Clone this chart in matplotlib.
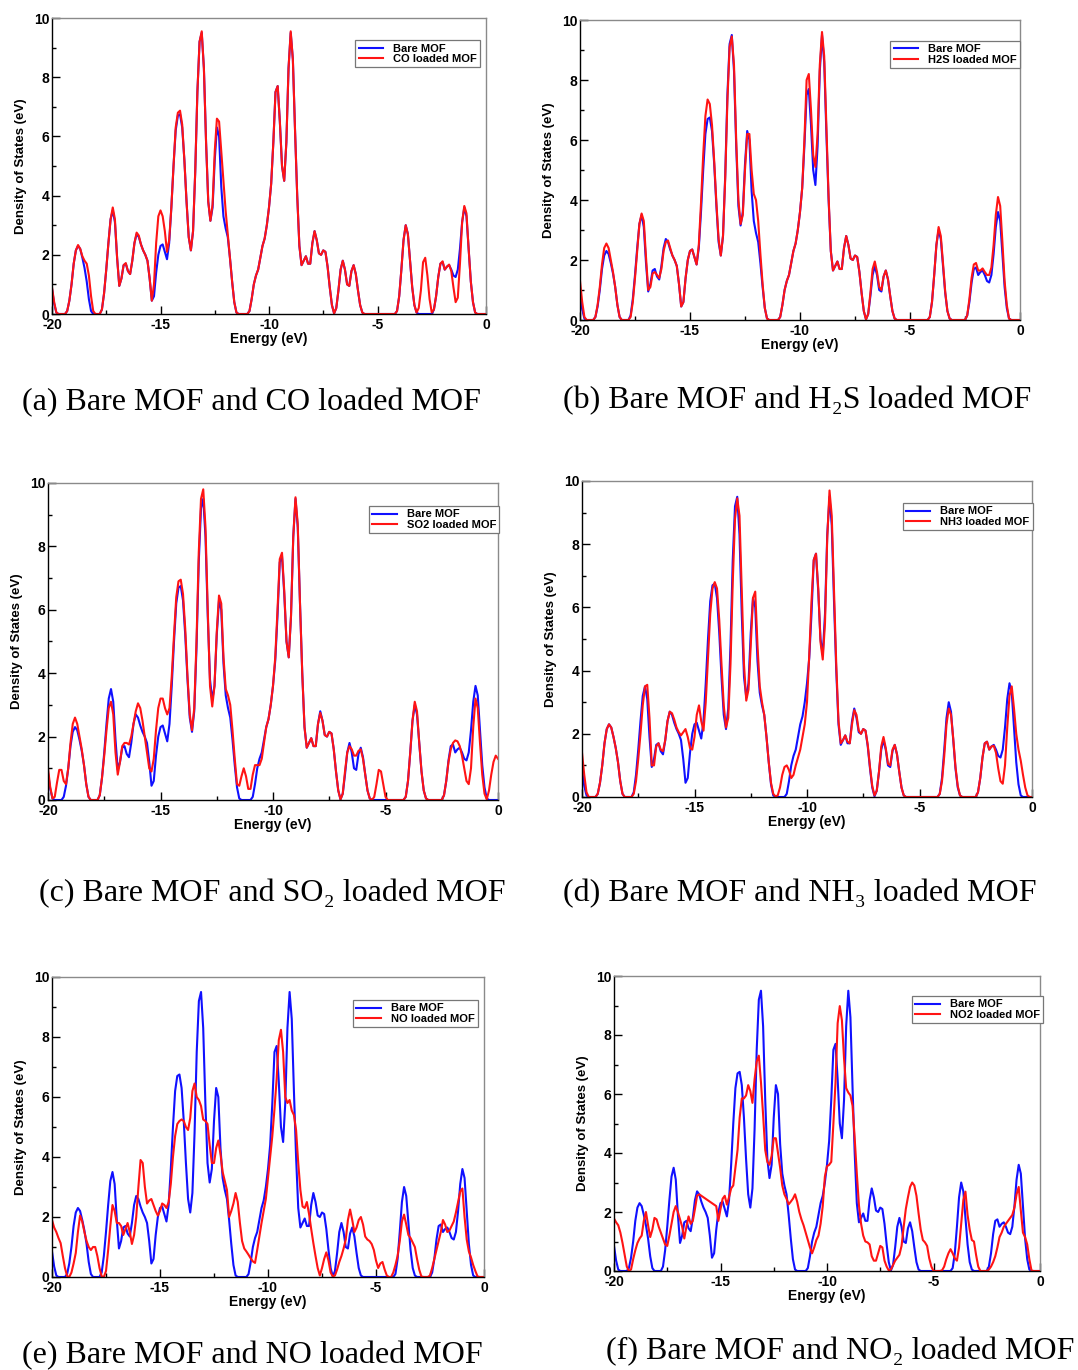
import numpy as np
import matplotlib
matplotlib.use('Agg')
import matplotlib.pyplot as plt
from matplotlib.ticker import MultipleLocator

plt.rcParams['axes.unicode_minus'] = False
plt.rcParams['font.family'] = ['Liberation Sans', 'DejaVu Sans']
plt.rcParams['font.weight'] = 'bold'

# Energy grid (eV), 0.1 eV sampling from -20 to 0
energy = np.round(np.linspace(-20, 0, 201), 1)

# ---- Density of states (one row = 1 eV, 10 samples) ----
bare_mof = [
    0.85, 0.35, 0.05, 0, 0, 0, 0, 0.1, 0.45, 1.0,          # -20
    1.7, 2.15, 2.3, 2.2, 1.9, 1.55, 1.1, 0.5, 0.1, 0,      # -19
    0, 0, 0, 0.15, 0.7, 1.5, 2.4, 3.2, 3.5, 3.1,           # -18
    1.9, 0.95, 1.2, 1.65, 1.7, 1.45, 1.35, 1.8, 2.4, 2.7,  # -17
    2.6, 2.35, 2.15, 2.0, 1.8, 1.2, 0.45, 0.6, 1.4, 2.0,   # -16
    2.3, 2.35, 2.1, 1.85, 2.4, 3.6, 5.0, 6.2, 6.7, 6.75,   # -15
    6.3, 5.2, 3.8, 2.6, 2.15, 2.8, 4.8, 7.5, 9.2, 9.5,     # -14
    8.3, 5.8, 3.8, 3.15, 3.6, 5.2, 6.3, 6.0, 4.3, 3.3,     # -13
    2.9, 2.6, 1.9, 1.1, 0.4, 0.05, 0, 0, 0, 0,             # -12
    0, 0.1, 0.5, 1.0, 1.3, 1.5, 1.9, 2.3, 2.55, 3.0,       # -11
    3.6, 4.4, 5.8, 7.5, 7.7, 6.5, 5.0, 4.5, 5.8, 8.3,      # -10
    9.5, 8.6, 6.2, 4.0, 2.3, 1.65, 1.8, 1.95, 1.7, 1.7,    # -9
    2.4, 2.8, 2.5, 2.05, 2.0, 2.15, 2.1, 1.6, 0.9, 0.3,    # -8
    0.02, 0.2, 0.8, 1.5, 1.8, 1.5, 1.0, 0.95, 1.45, 1.65,  # -7
    1.35, 0.8, 0.3, 0.05, 0, 0, 0, 0, 0, 0,                # -6
    0, 0, 0, 0, 0, 0, 0, 0, 0, 0.1,                        # -5
    0.6, 1.5, 2.5, 3.0, 2.7, 1.8, 0.9, 0.3, 0.05, 0,       # -4
    0, 0, 0, 0, 0, 0, 0.15, 0.6, 1.25, 1.7,                # -3
    1.75, 1.5, 1.6, 1.65, 1.5, 1.3, 1.25, 1.5, 2.2, 3.1,   # -2
    3.6, 3.3, 2.2, 1.1, 0.4, 0.05, 0, 0, 0, 0,             # -1
    0]

co_loaded = [
    0.9, 0.4, 0.05, 0, 0, 0, 0, 0.1, 0.45, 1.0,
    1.7, 2.15, 2.33, 2.2, 1.95, 1.8, 1.7, 1.3, 0.6, 0.1,
    0, 0, 0, 0.15, 0.7, 1.5, 2.4, 3.2, 3.6, 3.2,
    1.9, 0.95, 1.2, 1.65, 1.72, 1.45, 1.35, 1.8, 2.4, 2.75,
    2.65, 2.35, 2.15, 2.0, 1.8, 1.2, 0.45, 1.0, 2.4, 3.3,
    3.5, 3.3, 2.8, 2.1, 2.5, 3.6, 5.0, 6.3, 6.8, 6.87,
    6.4, 5.2, 3.8, 2.6, 2.15, 2.8, 4.8, 7.5, 9.2, 9.55,
    8.3, 5.8, 3.8, 3.15, 3.7, 5.5, 6.6, 6.5, 5.5, 4.5,
    3.5, 2.7, 1.9, 1.1, 0.4, 0.05, 0, 0, 0, 0,
    0, 0.1, 0.5, 1.0, 1.3, 1.5, 1.9, 2.3, 2.55, 3.0,
    3.6, 4.4, 5.8, 7.5, 7.7, 6.5, 5.0, 4.5, 5.8, 8.3,
    9.55, 8.6, 6.2, 4.0, 2.3, 1.65, 1.8, 1.95, 1.7, 1.7,
    2.4, 2.8, 2.5, 2.05, 2.0, 2.15, 2.1, 1.6, 0.9, 0.3,
    0.02, 0.2, 0.8, 1.5, 1.8, 1.5, 1.0, 0.95, 1.45, 1.65,
    1.35, 0.8, 0.3, 0.05, 0, 0, 0, 0, 0, 0,
    0, 0, 0, 0, 0, 0, 0, 0, 0, 0.1,
    0.6, 1.5, 2.5, 3.0, 2.7, 1.8, 0.9, 0.3, 0.05, 0.2,
    0.8, 1.75, 1.9, 1.3, 0.5, 0.05, 0.15, 0.6, 1.25, 1.7,
    1.78, 1.5, 1.6, 1.67, 1.45, 0.9, 0.4, 0.55, 1.7, 3.1,
    3.65, 3.4, 2.2, 1.1, 0.4, 0.05, 0, 0, 0, 0,
    0]

h2s_loaded = [
    1.3, 0.6, 0.1, 0, 0, 0, 0, 0.1, 0.5, 1.1,
    1.85, 2.4, 2.55, 2.4, 2.0, 1.6, 1.1, 0.5, 0.1, 0,
    0, 0, 0, 0.1, 0.6, 1.4, 2.3, 3.2, 3.55, 3.3,
    2.1, 1.0, 1.1, 1.55, 1.6, 1.5, 1.4, 1.7, 2.3, 2.6,
    2.65, 2.4, 2.15, 2.0, 1.8, 1.2, 0.45, 0.6, 1.4, 2.0,
    2.3, 2.35, 2.1, 1.85, 2.5, 3.9, 5.5, 6.8, 7.35, 7.2,
    6.5, 5.3, 3.9, 2.7, 2.15, 2.8, 4.7, 7.3, 9.1, 9.45,
    8.5, 6.0, 4.0, 3.2, 3.5, 5.0, 6.2, 6.2, 5.0, 4.2,
    4.0, 3.3, 2.2, 1.2, 0.4, 0.05, 0, 0, 0, 0,
    0, 0.1, 0.5, 1.0, 1.3, 1.5, 1.9, 2.3, 2.55, 3.0,
    3.6, 4.4, 6.0, 8.0, 8.2, 7.0, 5.5, 5.1, 6.2, 8.5,
    9.6, 8.8, 6.4, 4.1, 2.3, 1.65, 1.8, 1.95, 1.7, 1.7,
    2.4, 2.8, 2.5, 2.05, 2.0, 2.15, 2.1, 1.6, 0.9, 0.3,
    0.02, 0.2, 0.9, 1.7, 1.95, 1.6, 1.1, 1.0, 1.45, 1.65,
    1.35, 0.8, 0.3, 0.05, 0, 0, 0, 0, 0, 0,
    0, 0, 0, 0, 0, 0, 0, 0, 0, 0.1,
    0.6, 1.5, 2.5, 3.1, 2.8, 1.9, 0.95, 0.3, 0.05, 0,
    0, 0, 0, 0, 0, 0, 0.15, 0.7, 1.4, 1.85,
    1.9, 1.65, 1.65, 1.72, 1.6, 1.5, 1.5, 1.75, 2.5, 3.5,
    4.1, 3.8, 2.6, 1.3, 0.5, 0.05, 0, 0, 0, 0,
    0]

so2_loaded = [
    1.0, 0.4, 0.05, 0.1, 0.55, 0.95, 0.95, 0.6, 0.5, 1.0,
    1.8, 2.4, 2.6, 2.4, 2.0, 1.6, 1.1, 0.5, 0.1, 0,
    0, 0, 0, 0.15, 0.7, 1.4, 2.2, 2.9, 3.1, 2.7,
    1.5, 0.8, 1.2, 1.7, 1.8, 1.8, 1.75, 2.0, 2.4, 2.8,
    3.05, 2.9, 2.5, 2.0, 1.5, 1.0, 0.9, 1.3, 2.2, 2.9,
    3.2, 3.2, 2.9, 2.7, 2.9, 3.9, 5.2, 6.4, 6.9, 6.95,
    6.5, 5.4, 3.9, 2.7, 2.2, 2.9, 5.0, 7.8, 9.5, 9.8,
    8.6, 6.0, 3.6, 2.95, 3.6, 5.3, 6.45, 6.2, 4.5, 3.5,
    3.3, 3.0, 2.2, 1.3, 0.5, 0.45, 0.75, 1.0, 0.75, 0.35,
    0.35, 0.8, 1.1, 1.1, 1.1, 1.3, 1.8, 2.3, 2.55, 3.0,
    3.6, 4.5, 6.0, 7.6, 7.8, 6.6, 5.0, 4.5, 5.8, 8.3,
    9.55, 8.7, 6.2, 4.0, 2.3, 1.65, 1.8, 1.95, 1.7, 1.7,
    2.4, 2.75, 2.5, 2.05, 2.0, 2.15, 2.1, 1.6, 0.9, 0.3,
    0.02, 0.2, 0.9, 1.5, 1.7, 1.6, 1.4, 1.4, 1.55, 1.6,
    1.3, 0.8, 0.3, 0.05, 0, 0.1, 0.5, 0.95, 0.9, 0.5,
    0.1, 0, 0, 0, 0, 0, 0, 0, 0, 0.1,
    0.6, 1.5, 2.5, 3.1, 2.8, 1.8, 0.9, 0.3, 0.05, 0,
    0, 0, 0, 0, 0, 0, 0.15, 0.6, 1.2, 1.6,
    1.8, 1.88, 1.85, 1.7, 1.4, 1.0, 0.6, 0.5, 1.0, 2.3,
    3.2, 2.9, 1.8, 0.8, 0.2, 0.02, 0.3, 0.8, 1.2, 1.4,
    1.3]

nh3_loaded = [
    1.4, 0.7, 0.15, 0, 0, 0, 0, 0.1, 0.45, 1.0,
    1.7, 2.15, 2.3, 2.2, 1.9, 1.55, 1.1, 0.5, 0.1, 0,
    0, 0, 0, 0.1, 0.5, 1.2, 2.0, 2.9, 3.5, 3.55,
    2.5, 1.0, 1.0, 1.6, 1.7, 1.5, 1.45, 1.8, 2.4, 2.7,
    2.65, 2.45, 2.2, 2.05, 1.95, 2.05, 2.15, 1.9, 1.55, 1.5,
    1.9, 2.6, 2.9, 2.4, 2.1, 3.0, 4.4, 5.8, 6.6, 6.8,
    6.6, 5.6, 4.2, 2.9, 2.2, 2.5, 4.2, 6.8, 8.8, 9.45,
    8.9, 6.5, 4.2, 3.05, 3.4, 4.8, 6.3, 6.5, 4.8, 3.5,
    3.0, 2.6, 1.9, 1.1, 0.45, 0.1, 0.02, 0.05, 0.3, 0.7,
    0.95, 1.0, 0.85, 0.6, 0.7, 1.0, 1.25, 1.5, 1.9, 2.3,
    3.0, 4.5, 6.2, 7.5, 7.7, 6.6, 4.9, 4.35, 5.5, 8.2,
    9.7, 8.9, 6.5, 4.2, 2.4, 1.7, 1.8, 1.95, 1.75, 1.7,
    2.3, 2.75, 2.6, 2.1, 2.0, 2.15, 2.1, 1.65, 0.95, 0.35,
    0.05, 0.2, 0.8, 1.6, 1.9, 1.55, 1.05, 1.0, 1.5, 1.65,
    1.35, 0.8, 0.3, 0.05, 0, 0, 0, 0, 0, 0,
    0, 0, 0, 0, 0, 0, 0, 0, 0, 0.1,
    0.5, 1.3, 2.3, 2.8, 2.6, 1.85, 0.95, 0.35, 0.05, 0,
    0, 0, 0, 0, 0, 0, 0.15, 0.6, 1.25, 1.7,
    1.75, 1.5, 1.6, 1.62, 1.4, 0.9, 0.5, 0.42, 1.0, 2.2,
    3.2, 3.5, 2.8, 2.0, 1.5, 1.15, 0.7, 0.3, 0.05, 0,
    0]

no_loaded = [
    1.9, 1.65, 1.5, 1.3, 1.13, 0.7, 0.3, 0.03, 0, 0.15,
    0.45, 0.8, 1.5, 2.05, 1.85, 1.5, 1.2, 1.0, 0.9, 1.0,
    1.0, 0.7, 0.3, 0.02, 0, 0.2, 0.9, 1.7, 2.4, 2.2,
    1.8, 1.8, 1.7, 1.4, 1.6, 1.8, 1.5, 1.1, 1.4, 2.0,
    3.0, 3.9, 3.8, 3.0, 2.45, 2.55, 2.6, 2.4, 2.2, 2.05,
    2.2, 2.45, 2.4, 2.3, 2.5, 3.1, 4.0, 4.7, 5.1, 5.2,
    5.25, 5.2, 5.0, 4.9, 5.3, 6.2, 6.45, 6.0, 5.9, 5.7,
    5.25, 5.2, 5.1, 4.4, 3.8, 3.8, 4.3, 4.55, 4.1, 3.5,
    3.2, 2.9, 2.0, 2.2, 2.45, 2.8, 2.5, 1.8, 1.2, 0.95,
    0.85, 0.74, 0.62, 0.52, 0.47, 0.9, 1.36, 1.8, 2.2, 2.6,
    3.3, 4.0, 4.7, 5.6, 6.6, 7.9, 8.24, 7.5, 6.0, 5.8,
    5.9, 5.55, 5.4, 4.9, 3.8, 2.9, 2.35, 2.3, 2.5, 2.1,
    1.6, 1.13, 0.7, 0.3, 0.05, 0.3, 0.6, 0.82, 0.55, 0.15,
    0.02, 0.05, 0.25, 0.5, 0.7, 0.95, 1.25, 1.9, 2.25, 1.9,
    1.5, 1.65, 1.9, 2.0, 1.75, 1.35, 1.25, 1.2, 1.1, 0.9,
    0.55, 0.3, 0.45, 0.5, 0.25, 0.05, 0, 0, 0.15, 0.4,
    0.7, 1.2, 1.85, 2.08, 1.75, 1.4, 1.3, 1.15, 1.0, 0.6,
    0.25, 0.02, 0, 0, 0, 0.05, 0.3, 0.6, 0.9, 1.2,
    1.5, 1.9, 1.75, 1.5, 1.55, 1.7, 1.85, 2.15, 2.5, 2.85,
    2.95, 2.0, 1.25, 0.85, 0.65, 0.4, 0.2, 0.02, 0, 0,
    0]

no2_loaded = [
    1.78, 1.65, 1.55, 1.3, 0.95, 0.54, 0.15, 0, 0.05, 0.4,
    0.7, 0.95, 1.1, 1.2, 1.7, 2.0, 1.55, 1.15, 1.4, 1.8,
    1.75, 1.5, 1.3, 1.1, 0.9, 0.85, 1.2, 1.6, 2.0, 2.2,
    2.0, 1.75, 1.5, 1.1, 1.5, 1.85, 1.6, 1.7, 2.1, 2.55,
    2.6, 2.55, 2.5, 2.45, 2.4, 2.35, 2.3, 2.25, 2.2, 1.7,
    2.1, 2.45, 2.55, 2.25, 2.5, 2.8, 2.9, 3.5, 4.1, 5.2,
    5.85, 5.85, 5.95, 6.3, 6.1, 5.7, 6.5, 7.1, 7.3, 6.4,
    5.3, 4.1, 3.7, 3.6, 3.9, 4.5, 4.5, 4.0, 3.5, 2.9,
    2.6, 2.45, 2.26, 2.35, 2.45, 2.6, 2.35, 2.0, 1.75, 1.55,
    1.3, 1.05, 0.8, 0.6, 0.8, 1.05, 1.2, 1.6, 2.2, 3.2,
    3.55, 3.6, 3.7, 5.0, 6.4, 8.4, 8.98, 8.5, 7.2, 6.2,
    6.05, 5.95, 5.6, 4.5, 3.3, 2.23, 1.6, 1.2, 1.0, 0.97,
    0.9, 0.5, 0.35, 0.35, 0.6, 0.85, 0.8, 0.35, 0.15, 0.02,
    0.05, 0.2, 0.35, 0.45, 0.55, 0.85, 1.5, 2.1, 2.5, 2.85,
    3.0, 2.9, 2.55, 1.95, 1.4, 1.05, 0.97, 0.85, 0.43, 0.15,
    0, 0, 0, 0, 0.02, 0.15, 0.4, 0.6, 0.74, 0.6,
    0.43, 0.35, 0.8, 1.6, 2.4, 2.69, 1.9, 1.4, 1.05, 1.0,
    0.54, 0.15, 0, 0, 0, 0, 0.05, 0.15, 0.3, 0.5,
    0.8, 1.15, 1.3, 1.5, 1.6, 1.7, 1.8, 1.9, 2.15, 2.6,
    2.85, 2.05, 1.3, 1.15, 0.9, 0.4, 0.02, 0, 0, 0,
    0]

loaded_labels = ['CO loaded MOF', 'H2S loaded MOF', 'SO2 loaded MOF',
                 'NH3 loaded MOF', 'NO loaded MOF', 'NO2 loaded MOF']
captions = ['(a) Bare MOF and CO loaded MOF',
            '(b) Bare MOF and H\u2082S loaded MOF',
            '(c) Bare MOF and SO\u2082 loaded MOF',
            '(d) Bare MOF and NH\u2083 loaded MOF',
            '(e) Bare MOF and NO loaded MOF',
            '(f) Bare MOF and NO\u2082 loaded MOF']
loaded_series = [co_loaded, h2s_loaded, so2_loaded, nh3_loaded, no_loaded, no2_loaded]

W, H = 1078, 1370
fig = plt.figure(figsize=(W / 100, H / 100), dpi=100)

# axes boxes in pixels: left, top, right, bottom
boxes = [(52, 18, 486, 314), (580, 20, 1020, 320),
         (48, 483, 498, 800), (582, 481, 1032, 797),
         (52, 977, 484, 1277), (614, 976, 1040, 1271)]
legend_anchor = [(0.987, 0.925), (1.0, 0.93), (1.003, 0.927),
                 (1.002, 0.93), (0.986, 0.923), (1.007, 0.932)]
caption_pos = [(251, 403), (797, 401), (272, 894), (800, 894), (252, 1356), (840, 1352)]

for i in range(6):
    l, t, r, b = boxes[i]
    ax = fig.add_axes([l / W, 1 - b / H, (r - l) / W, (b - t) / H])
    ax.plot(energy, bare_mof, color='#1010ff', lw=1.5, label='Bare MOF')
    ax.plot(energy, loaded_series[i], color='#ff1414', lw=1.5, label=loaded_labels[i])
    ax.set_xlim(-20, 0)
    ax.set_ylim(0, 10)
    ax.xaxis.set_major_locator(MultipleLocator(5))
    ax.xaxis.set_minor_locator(MultipleLocator(2.5))
    ax.yaxis.set_major_locator(MultipleLocator(2))
    ax.yaxis.set_minor_locator(MultipleLocator(1))
    ax.tick_params(which='both', direction='in', top=False, right=False,
                   labelsize=10, width=1)
    ax.tick_params(which='major', length=6)
    ax.tick_params(which='minor', length=3)
    ax.tick_params(axis='x', pad=3)
    ax.tick_params(axis='y', pad=2)
    for side in ('top', 'right'):
        ax.spines[side].set_color('#8a8a8a')
        ax.spines[side].set_linewidth(1.0)
    for side in ('left', 'bottom'):
        ax.spines[side].set_color('black')
        ax.spines[side].set_linewidth(1.0)
    ax.set_xlabel('Energy (eV)', fontsize=10, fontweight='bold', labelpad=0)
    ax.set_ylabel('Density of States (eV)', fontsize=9.5, fontweight='bold', labelpad=5)
    leg = ax.legend(loc='upper right', bbox_to_anchor=legend_anchor[i],
                    fontsize=8, frameon=True, fancybox=False, framealpha=1,
                    borderpad=0.3, labelspacing=0.05, handlelength=2.2,
                    handletextpad=0.9, borderaxespad=0)
    leg.get_frame().set_edgecolor('#777777')
    leg.get_frame().set_linewidth(0.9)
    cx, cy = caption_pos[i]
    fig.text(cx / W, 1 - cy / H, captions[i], ha='center', va='center',
             fontsize=23, fontweight='normal',
             family=['Liberation Serif', 'DejaVu Serif'])

fig.savefig('out.png', dpi=100)
